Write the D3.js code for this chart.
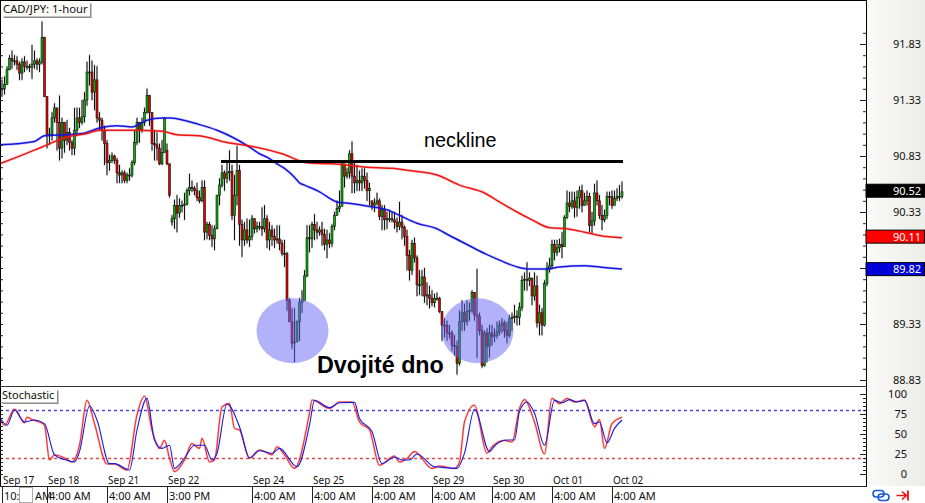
<!DOCTYPE html>
<html><head><meta charset="utf-8">
<script src="https://cdn.jsdelivr.net/npm/d3@7/dist/d3.min.js"></script>
<style>html,body{margin:0;padding:0;background:#fff}svg{display:block}</style>
</head><body><svg id="c" width="925" height="503"></svg>
<script>
const closes=[91.43,91.47,91.60,91.70,91.68,91.68,91.65,91.57,91.67,91.63,
91.63,91.62,91.65,91.68,91.65,91.67,91.89,91.36,91.01,91.02,
91.17,91.26,91.13,90.90,91.13,90.97,91.04,90.95,90.90,91.06,
91.17,91.13,91.18,91.33,91.58,91.58,91.40,91.51,91.17,91.15,
91.06,90.94,90.77,90.79,90.83,90.79,90.68,90.66,90.68,90.61,
90.66,90.66,90.77,90.95,91.13,91.06,91.13,91.22,91.37,91.22,
90.94,90.93,90.90,90.76,90.86,91.17,90.76,90.48,90.27,90.39,
90.32,90.39,90.39,90.40,90.52,90.55,90.54,90.52,90.46,90.43,
90.55,90.15,90.22,90.12,90.09,90.18,90.48,90.57,90.68,90.63,
90.68,90.69,90.30,90.48,90.70,90.22,90.08,90.17,90.08,90.11,
90.27,90.18,90.20,90.20,90.18,90.27,90.08,90.17,90.11,90.08,
90.09,90.05,89.96,89.96,89.54,89.35,89.16,89.17,89.35,89.52,
89.54,89.76,90.10,90.09,90.22,90.17,90.15,90.17,90.13,90.04,
90.08,90.05,90.20,90.30,90.36,90.38,90.76,90.65,90.68,90.85,
90.65,90.59,90.61,90.59,90.65,90.61,90.52,90.54,90.39,90.41,
90.43,90.29,90.35,90.26,90.27,90.27,90.26,90.24,90.20,90.24,
90.19,90.11,89.94,89.81,90.05,89.92,89.68,89.68,89.75,89.58,
89.59,89.56,89.52,89.56,89.56,89.44,89.32,89.32,89.25,89.25,
89.14,89.13,88.98,89.35,89.43,89.35,89.44,89.45,89.61,89.41,
89.40,89.27,88.96,89.25,89.13,89.25,89.22,89.23,89.26,89.32,
89.34,89.27,89.23,89.38,89.39,89.40,89.39,89.48,89.72,89.73,
89.72,89.74,89.58,89.67,89.34,89.43,89.32,89.69,89.83,89.85,
90.04,89.97,90.01,90.04,90.02,90.28,90.41,90.38,90.43,90.37,
90.46,90.52,90.39,90.43,90.47,90.21,90.25,90.50,90.43,90.30,
90.26,90.30,90.47,90.47,90.39,90.45,90.47,90.47,90.51];
const highs=[91.51,91.54,91.63,91.73,91.77,91.73,91.72,91.67,91.70,91.72,
91.68,91.65,91.82,91.77,91.70,91.70,92.03,91.89,91.36,91.08,
91.22,91.30,91.19,91.37,91.17,91.13,91.15,91.08,90.97,91.26,
91.26,91.26,91.33,91.40,91.67,91.73,91.68,91.64,91.63,91.22,
91.17,91.10,90.97,90.84,90.86,90.84,90.81,90.75,90.70,90.70,
90.68,90.72,90.79,91.06,91.17,91.13,91.17,91.26,91.43,91.37,
91.17,91.06,91.04,90.94,90.97,91.17,90.94,90.76,90.30,90.44,
90.48,90.45,90.43,90.50,90.54,90.67,90.61,90.56,90.59,90.52,
90.61,90.61,90.24,90.24,90.21,90.21,90.48,90.63,90.75,90.70,
90.79,90.88,90.75,90.66,90.92,90.75,90.26,90.24,90.27,90.26,
90.30,90.27,90.24,90.24,90.37,90.39,90.30,90.24,90.21,90.18,
90.21,90.21,90.08,90.08,89.97,89.56,89.47,89.47,89.36,89.56,
89.63,89.81,90.21,90.21,90.24,90.31,90.24,90.20,90.24,90.18,
90.17,90.14,90.22,90.33,90.43,90.52,90.79,90.75,90.72,90.88,
90.96,90.77,90.75,90.70,90.72,90.72,90.68,90.59,90.43,90.45,
90.50,90.45,90.39,90.39,90.33,90.35,90.33,90.33,90.28,90.42,
90.30,90.21,90.17,89.99,90.08,90.10,89.94,89.81,89.81,89.83,
89.70,89.67,89.63,89.60,89.61,89.57,89.44,89.38,89.36,89.32,
89.27,89.23,89.18,89.45,89.54,89.51,89.54,89.52,89.63,89.61,
89.82,89.43,89.32,89.27,89.29,89.32,89.32,89.29,89.35,89.36,
89.38,89.36,89.35,89.41,89.43,89.50,89.45,89.52,89.76,89.79,
89.88,89.79,89.74,89.79,89.76,89.50,89.47,89.72,89.88,89.92,
90.08,90.08,90.08,90.09,90.15,90.30,90.52,90.51,90.51,90.51,
90.52,90.56,90.57,90.50,90.52,90.50,90.33,90.58,90.61,90.48,
90.39,90.35,90.51,90.51,90.52,90.52,90.54,90.57,90.60];
const lows=[91.36,91.38,91.47,91.60,91.61,91.64,91.60,91.51,91.51,91.58,
91.60,91.58,91.52,91.61,91.60,91.58,91.65,91.36,90.90,90.93,
90.97,91.13,90.88,90.79,90.81,90.86,90.93,90.88,90.84,90.84,
91.01,91.08,91.11,91.13,91.28,91.46,91.33,91.24,91.13,91.06,
90.97,90.75,90.66,90.70,90.77,90.76,90.59,90.59,90.59,90.59,
90.59,90.61,90.64,90.75,90.93,90.95,91.04,91.10,91.21,91.10,
90.88,90.79,90.79,90.75,90.75,90.86,90.75,90.46,90.21,90.18,
90.15,90.28,90.33,90.26,90.39,90.48,90.51,90.48,90.43,90.41,
90.42,90.08,90.09,90.08,90.02,89.99,90.18,90.39,90.55,90.52,
90.59,90.61,90.26,90.08,90.39,90.03,89.93,90.03,90.05,90.02,
90.08,90.14,90.15,90.17,90.12,90.15,90.01,89.99,90.03,90.01,
90.05,89.99,89.94,89.84,89.45,89.35,89.11,88.99,89.17,89.18,
89.43,89.54,89.75,89.97,90.01,90.08,90.09,90.12,90.03,89.99,
89.92,90.01,90.02,90.17,90.30,90.33,90.39,90.55,90.63,90.63,
90.50,90.50,90.52,90.52,90.52,90.54,90.43,90.39,90.35,90.33,
90.39,90.26,90.17,90.17,90.18,90.24,90.24,90.18,90.15,90.17,
90.09,90.03,89.81,89.72,89.77,89.88,89.58,89.59,89.58,89.52,
89.50,89.47,89.49,89.48,89.54,89.43,89.18,89.21,89.18,89.20,
89.09,89.05,88.88,88.96,89.27,89.27,89.32,89.36,89.43,89.36,
89.03,89.23,88.94,88.95,88.99,89.03,89.14,89.17,89.20,89.23,
89.25,89.21,89.16,89.21,89.27,89.34,89.32,89.32,89.45,89.63,
89.63,89.67,89.50,89.54,89.30,89.23,89.23,89.31,89.67,89.79,
89.83,89.90,89.94,89.97,89.92,90.03,90.27,90.33,90.36,90.28,
90.29,90.36,90.33,90.39,90.39,90.15,90.14,90.21,90.39,90.27,
90.17,90.24,90.27,90.39,90.36,90.39,90.43,90.43,90.45];
// opens follow the previous close except at these visible gaps: [bar, open]
const gapOpens=[[66,90.88],[68,90.24],[148,90.43]];

const blueMABars=[-1,13,17,26,32,39,46,52,58,64,67,79,86,92,99,103,106,110,113,117,119,121,127,134,138,147,154,159,166,174,179,186,193,199,206,211,218,223,233,239,248];
const blueMAValues=[90.93,90.96,91.01,91.02,91.03,91.08,91.10,91.09,91.15,91.17,91.17,91.11,91.06,91.00,90.91,90.85,90.82,90.76,90.72,90.64,90.59,90.57,90.51,90.42,90.41,90.38,90.35,90.30,90.23,90.18,90.12,90.04,89.96,89.90,89.84,89.82,89.82,89.84,89.85,89.84,89.82];
const redMABars=[-1,6,16,26,34,39,52,64,70,79,90,99,112,122,132,146,156,163,174,183,193,199,206,212,219,226,233,239,248];
const redMAValues=[90.76,90.82,90.91,91.00,91.03,91.06,91.06,91.05,91.02,91.01,90.95,90.92,90.85,90.77,90.76,90.73,90.72,90.70,90.66,90.57,90.50,90.42,90.33,90.26,90.19,90.18,90.15,90.12,90.10];

const stochRedBars=[-1,1,5,9,10,12,15,17,19,21,25,28,31,34,37,42,45,50,54,57,60,63,65,67,69,73,76,79,80,83,85,88,91,93,95,99,103,105,108,110,113,117,123,124,131,135,140,143,147,151,157,159,162,165,172,175,181,183,185,189,194,196,201,204,207,209,213,217,220,223,226,229,233,237,239,241,244,248];
const stochRedValues=[70,61,81,64,71,68,65,61,17.5,24,20,15,36,92,63,12.5,12.5,5,74,97.5,55,32,42,20,3,17.5,38,32,44.5,15,17.5,84,88,57,55,20,30,28,24,34,24,7,76,92.5,82,90,90,65,55,11,22.5,15,19.5,28,7,10,7,15,65,86,26,34,42,40,82,93,65,25,94.5,88,94.5,90,92.5,59,68,32,63,71];
const stochBlueBars=[-1,2,5,9,13,17,21,25,29,31,35,38,43,45,51,54,58,61,64,67,69,73,77,81,84,86,90,95,99,103,108,111,118,123,125,131,135,141,143,148,152,157,160,163,166,173,177,182,185,189,195,197,202,205,207,210,213,217,221,224,227,230,233,237,239,242,245,248];
const stochBlueValues=[72,61,80,65,67.5,63,24,18,15,28,85,67.5,13,13,5,55,94.5,42.5,32,36,7,20,36,36,17.5,26,87.5,59,20,29,26,32,9,61,92,83,89,89.5,69.5,53,13,21,17.5,17.5,25,9,8,7,26,81,28,35,42.5,42.5,78,90,76,36,92,89,93,90,92,63,65,39,57,67.5];

const priceLabels=["91.83","91.33","90.83","90.33","89.33","88.83"];
const stochLabels=[100,75,50,25,0];
const stochLevels=[80,20];
const lastClose=90.52, redLast=90.11, blueLast=89.82;
const necklineBars=[88,248], necklineValue=90.78;
const dateTickBars=[0,18,42,66,100,124,148,172,196,220,244];
const dateLabels=["Sep 17","Sep 18","Sep 21","Sep 22","Sep 24","Sep 25","Sep 28","Sep 29","Sep 30","Oct 01","Oct 02"];
const timeLabels=["10:00 AM","4:00 AM","4:00 AM","3:00 PM","4:00 AM","4:00 AM","4:00 AM","4:00 AM","4:00 AM","4:00 AM","4:00 AM"];

const W=925,H=503,axisX=866,priceBottom=386,stochBottom=486;
const font="'Noto Sans',sans-serif";
const x=d3.scaleLinear().domain([0,248]).range([2,622]);
const yP=d3.scaleLinear().domain([91.83,88.83]).range([44,380]);
const yS=d3.scaleLinear().domain([100,0]).range([394,474]);
const svg=d3.select("#c");
const defs=svg.append("defs");
const lg=defs.append("linearGradient").attr("id","pan");
lg.append("stop").attr("offset","0").attr("stop-color","#fafaf8");
lg.append("stop").attr("offset","1").attr("stop-color","#ecece8");
defs.append("clipPath").attr("id","cp").append("rect").attr("width",axisX).attr("height",priceBottom);
defs.append("clipPath").attr("id","cs").append("rect").attr("y",priceBottom).attr("width",axisX).attr("height",stochBottom-priceBottom);

svg.append("rect").attr("width",W).attr("height",H).attr("fill","#fff");
svg.append("rect").attr("x",axisX).attr("width",W-axisX).attr("height",stochBottom).attr("fill","url(#pan)");

// price panel
const bars=closes.map((c,i)=>{
  const g=gapOpens.find(d=>d[0]===i);
  return {i,c,h:highs[i],l:lows[i],o:g?g[1]:(i?closes[i-1]:c)};
});
const pg=svg.append("g").attr("clip-path","url(#cp)");
pg.append("g").selectAll("line").data(bars).join("line")
  .attr("x1",d=>x(d.i)).attr("x2",d=>x(d.i)).attr("y1",d=>yP(d.h)-1).attr("y2",d=>yP(d.l)+1)
  .attr("stroke","#999").attr("stroke-width",2).attr("opacity",.4);
pg.append("g").selectAll("line").data(bars).join("line")
  .attr("x1",d=>x(d.i)).attr("x2",d=>x(d.i)).attr("y1",d=>yP(d.h)).attr("y2",d=>yP(d.l))
  .attr("stroke","#111").attr("stroke-width",1);
pg.append("g").selectAll("rect").data(bars).join("rect")
  .attr("x",d=>x(d.i)-1).attr("width",2)
  .attr("y",d=>yP(Math.max(d.o,d.c))).attr("height",d=>Math.max(1,Math.abs(yP(d.o)-yP(d.c))))
  .attr("fill",d=>d.c>=d.o?"#00b400":"#e80000").attr("stroke","#111").attr("stroke-width",.6);

const ma=(bs,vs)=>d3.line().curve(d3.curveMonotoneX).x((d,i)=>x(bs[i])).y((d,i)=>yP(vs[i]))(vs);
[[blueMABars,blueMAValues,"#1414e0"],[redMABars,redMAValues,"#f01414"]].forEach(([b,v,col])=>{
  pg.append("path").attr("d",ma(b,v)).attr("fill","none").attr("stroke",col).attr("stroke-width",3).attr("opacity",.18);
  pg.append("path").attr("d",ma(b,v)).attr("fill","none").attr("stroke",col).attr("stroke-width",1.5);
});
// double bottom circles
const circleBars=[116,190], circleValue=89.27;
pg.append("g").selectAll("ellipse").data(circleBars).join("ellipse")
  .attr("cx",d=>x(d)+.5).attr("cy",yP(circleValue)).attr("rx",36).attr("ry",32.5)
  .attr("fill","#6666f5").attr("opacity",.5);
pg.append("line").attr("x1",x(necklineBars[0])-1).attr("x2",x(necklineBars[1])+1)
  .attr("y1",yP(necklineValue)).attr("y2",yP(necklineValue)).attr("stroke","#000").attr("stroke-width",3);
svg.append("text").attr("x",424).attr("y",147).attr("font-family","'Liberation Sans',Arial,sans-serif").attr("font-size",19.8).attr("fill","#000").text("neckline");
svg.append("text").attr("x",317).attr("y",373).attr("font-family","'Liberation Sans',Arial,sans-serif").attr("font-size",23.3).attr("font-weight","bold").attr("fill","#000").text("Dvojité dno");

// stochastic panel
const sg=svg.append("g").attr("clip-path","url(#cs)");
sg.selectAll(".lvl").data(stochLevels).join("line").attr("class","lvl")
  .attr("x1",0).attr("x2",axisX).attr("y1",d=>yS(d)+.5).attr("y2",d=>yS(d)+.5)
  .attr("stroke",d=>d===80?"#4a4ad8":"#dc4a4a").attr("stroke-width",1.4).attr("stroke-dasharray","3,3");
const sl=(bs,vs)=>d3.line().curve(d3.curveMonotoneX).x((d,i)=>x(bs[i])).y((d,i)=>yS(vs[i]))(vs);
sg.append("path").attr("d",sl(stochRedBars,stochRedValues)).attr("fill","none").attr("stroke","#f03030").attr("stroke-width",2.2).attr("opacity",.3);
sg.append("path").attr("d",sl(stochRedBars,stochRedValues)).attr("fill","none").attr("stroke","#f03030").attr("stroke-width",1.1);
sg.append("path").attr("d",sl(stochBlueBars,stochBlueValues)).attr("fill","none").attr("stroke","#1a1ae0").attr("stroke-width",1.1);

// frame
const frame=svg.append("g").attr("stroke","#000");
frame.append("line").attr("x1",0).attr("x2",axisX).attr("y1",.5).attr("y2",.5);
frame.append("line").attr("x1",.5).attr("x2",.5).attr("y1",0).attr("y2",stochBottom);
frame.append("line").attr("x1",axisX+.5).attr("x2",axisX+.5).attr("y1",0).attr("y2",stochBottom);
frame.append("line").attr("x1",0).attr("x2",axisX+1).attr("y1",priceBottom+.5).attr("y2",priceBottom+.5).attr("stroke","#333");
frame.append("line").attr("x1",0).attr("x2",axisX+1).attr("y1",stochBottom+.5).attr("y2",stochBottom+.5).attr("stroke","#222");

// axes ticks
const minorP=d3.range(-2,32).map(k=>+(88.83+k*.1).toFixed(2)).filter(v=>yP(v)>4&&yP(v)<priceBottom-2);
const majorP=[91.83,91.33,90.83,90.33,89.83,89.33,88.83];
const minorS=d3.range(0,105,5);
function ticks(axisFn,scale,vals,size,xPos){
  const g=svg.append("g").attr("transform",`translate(${xPos},0)`)
    .call(axisFn(scale).tickValues(vals).tickSize(size).tickFormat(""));
  g.select(".domain").remove();
  g.selectAll("line").attr("stroke","#222");
  g.selectAll("text").remove();
}
ticks(d3.axisLeft,yP,minorP,3,axisX);
ticks(d3.axisLeft,yP,majorP,6,axisX);
ticks(d3.axisLeft,yS,minorS,3,axisX);
ticks(d3.axisLeft,yS,stochLabels,6,axisX);
ticks(d3.axisRight,yP,minorP,3,0);
ticks(d3.axisRight,yS,minorS,3,0);

// axis labels
const labFont=(s,sz)=>s.attr("font-family",font).attr("font-size",sz).attr("fill","#111");
labFont(svg.append("g").selectAll("text").data(priceLabels).join("text")
  .attr("x",921).attr("y",d=>yP(+d)+4).attr("text-anchor","end").text(d=>d),11);
labFont(svg.append("g").selectAll("text").data(stochLabels).join("text")
  .attr("x",907).attr("y",d=>yS(d)+4).attr("text-anchor","end").text(d=>d),11);
// price tags
[[lastClose,"#000"],[redLast,"#ff0000"],[blueLast,"#0000d8"]].forEach(([v,col])=>{
  const cy=yP(v);
  svg.append("rect").attr("x",axisX).attr("y",cy-6.5).attr("width",W-axisX-.5).attr("height",13).attr("fill",col).attr("stroke","#000");
  svg.append("text").attr("x",921).attr("y",cy+4).attr("text-anchor","end").attr("font-family",font).attr("font-size",11).attr("fill","#fff").text(v.toFixed(2));
});

// time axis
labFont(svg.append("g").selectAll("text").data(dateLabels).join("text")
  .attr("x",(d,i)=>x(dateTickBars[i])+1).attr("y",484).text(d=>d),10);
const tg=svg.append("g");
tg.selectAll("line").data(dateTickBars).join("line")
  .attr("x1",d=>Math.round(x(d))+.5).attr("x2",d=>Math.round(x(d))+.5).attr("y1",stochBottom).attr("y2",H).attr("stroke","#222");
labFont(tg.selectAll("text").data(timeLabels).join("text")
  .attr("x",(d,i)=>x(dateTickBars[i])+2).attr("y",500).text(d=>d),11);
// white box covering part of the first label
svg.append("rect").attr("x",19.5).attr("y",487.5).attr("width",13).attr("height",15).attr("fill","#fff").attr("stroke","#aaa");

// panel caption boxes
function caption(txt,bx,by,w,h,sz){
  svg.append("rect").attr("x",bx+1.5).attr("y",by+1.5).attr("width",w).attr("height",h).attr("fill","#8a8a8a");
  svg.append("rect").attr("x",bx).attr("y",by).attr("width",w).attr("height",h).attr("fill","#fbfbf8");
  svg.append("text").attr("x",bx+1).attr("y",by+h-3.5).attr("font-family",font).attr("font-size",sz).attr("fill","#111").text(txt);
}
caption("CAD/JPY: 1-hour",2,2,88,14.5,11.3);
caption("Stochastic",1,389,56,13.5,11);

// toolbar icons
const ic=svg.append("g").attr("fill","none");
ic.append("rect").attr("x",873).attr("y",490.5).attr("width",11).attr("height",6.5).attr("rx",3.2).attr("stroke","#1a5ad8").attr("stroke-width",1.6);
ic.append("rect").attr("x",878).attr("y",494).attr("width",11).attr("height",6.5).attr("rx",3.2).attr("stroke","#1a5ad8").attr("stroke-width",1.6);
ic.append("path").attr("d","M896.5 495.5H906M902 491.5l4.5 4-4.5 4").attr("stroke","#f01010").attr("stroke-width",1.6);
ic.append("line").attr("x1",908).attr("x2",908).attr("y1",490.5).attr("y2",500.5).attr("stroke","#f01010").attr("stroke-width",1.8);
</script></body></html>
